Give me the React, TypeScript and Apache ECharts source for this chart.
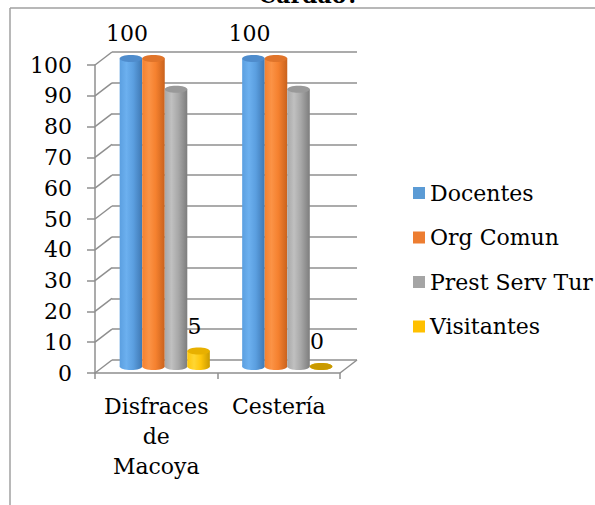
import React, { useEffect, useRef } from "react";
import * as echarts from "echarts";

const categories = ["Disfraces de Macoya", "Cestería"];
const seriesNames = ["Docentes", "Org Comun", "Prest Serv Tur", "Visitantes"];
const docentes = [100, 100];
const orgComun = [100, 100];
const prestServTur = [90, 90];
const visitantes = [5, 0];
const seriesValues = [docentes, orgComun, prestServTur, visitantes];
const labelledSeries = ["Docentes", "Visitantes"];
const yTicks = [0, 10, 20, 30, 40, 50, 60, 70, 80, 90, 100];
const titleText = "Cardao?";

const flatColors = ["#5B9BD5", "#ED7D31", "#A5A5A5", "#FFC000"];
const shade = [
  { dark: "#3f78b3", light: "#6cb0ef", mid: "#5b9fe0", top: "#4f8ccc" },
  { dark: "#c9621d", light: "#fb9346", mid: "#f5812f", top: "#e0742a" },
  { dark: "#7d7d7d", light: "#c0c0c0", mid: "#a8a8a8", top: "#999999" },
  { dark: "#c99a00", light: "#ffd633", mid: "#ffc60a", top: "#e8b000" },
];

const FONT = "DejaVu Serif, serif";
const FS = 22;
const FRONT = { left: 95, right: 255, top: 65, bottom: 132 };
const BACK = { left: 112, right: 238, top: 52, bottom: 145 };
const MID = { left: 103.5, right: 246.5, top: 58.5, bottom: 138.5 };
const LINE = "#8f8f8f";
const BAR_FRACTION = 0.184;

export default function App() {
  const ref = useRef<HTMLDivElement>(null);
  useEffect(() => {
    if (!ref.current) return;
    const chart = echarts.init(ref.current, null, { renderer: "svg" });
    const n = seriesNames.length;
    const series = seriesNames.map((name, sIdx) => ({
      name,
      type: "custom",
      xAxisIndex: 2,
      yAxisIndex: 2,
      itemStyle: { color: flatColors[sIdx] },
      encode: { x: 0, y: 1 },
      data: seriesValues[sIdx].map((v, i) => [i, v]),
      renderItem: (params: any, api: any) => {
        const cat = api.value(0);
        const val = api.value(1);
        const base = api.coord([cat, 0]);
        const top = api.coord([cat, val]);
        const band = api.size([1, 0])[0];
        const w = band * BAR_FRACTION;
        const cx = base[0] + (sIdx - (n - 1) / 2) * w;
        const ry = 3.5;
        const c = shade[sIdx];
        const grad = new echarts.graphic.LinearGradient(0, 0, 1, 0, [
          { offset: 0, color: c.mid },
          { offset: 0.3, color: c.light },
          { offset: 0.6, color: c.mid },
          { offset: 1, color: c.dark },
        ]);
        const children: any[] = [
          { type: "ellipse", shape: { cx, cy: base[1], rx: w / 2, ry }, style: { fill: grad } },
        ];
        if (base[1] - top[1] > 0.5) {
          children.push({
            type: "rect",
            shape: { x: cx - w / 2, y: top[1], width: w, height: base[1] - top[1] },
            style: { fill: grad },
          });
        }
        children.push({
          type: "ellipse",
          shape: { cx, cy: top[1], rx: w / 2, ry },
          style: { fill: val === 0 ? c.dark : c.top },
        });
        if (labelledSeries.includes(name)) {
          children.push({
            type: "text",
            style: {
              x: cx - 4,
              y: top[1] - 25,
              text: String(val),
              fill: "#000",
              fontSize: FS,
              fontFamily: FONT,
              align: "center",
              verticalAlign: "middle",
            },
          });
        }
        return { type: "group", children };
      },
    }));

    const option: any = {
      animation: false,
      backgroundColor: "#fff",
      textStyle: { fontFamily: FONT },
      legend: {
        orient: "vertical",
        left: 408,
        top: 177,
        itemWidth: 12,
        itemHeight: 12,
        itemGap: 22.5,
        icon: "rect",
        data: seriesNames,
        textStyle: { fontSize: FS, color: "#000", fontFamily: FONT },
      },
      grid: [{ ...FRONT }, { ...BACK }, { ...MID }],
      xAxis: [
        {
          gridIndex: 0,
          type: "category",
          data: categories,
          axisLine: { lineStyle: { color: LINE, width: 1.5 } },
          axisTick: { show: true, length: 6, lineStyle: { color: LINE, width: 1.5 } },
          axisLabel: {
            color: "#000",
            fontSize: FS,
            fontFamily: FONT,
            lineHeight: 30,
            margin: 18,
            interval: 0,
            formatter: (v: string) => v.replace(/ /g, "\n"),
          },
        },
        { gridIndex: 1, type: "category", data: categories, show: false },
        { gridIndex: 2, type: "category", data: categories, show: false },
      ],
      yAxis: [
        {
          gridIndex: 0,
          type: "value",
          min: 0,
          max: 100,
          interval: 10,
          axisLine: { show: true, lineStyle: { color: LINE, width: 1.5 } },
          axisTick: { show: true, length: 8, lineStyle: { color: LINE, width: 1.5 } },
          splitLine: { show: false },
          axisLabel: { color: "#000", fontSize: FS, fontFamily: FONT, margin: 23 },
        },
        {
          gridIndex: 1,
          type: "value",
          min: 0,
          max: 100,
          interval: 10,
          axisLine: { show: false },
          axisTick: { show: false },
          axisLabel: { show: false },
          splitLine: { show: true, lineStyle: { color: LINE, width: 1.5 } },
        },
        { gridIndex: 2, type: "value", min: 0, max: 100, interval: 10, show: false, splitLine: { show: false } },
      ],
      series,
    };
    chart.setOption(option);

    const W = 595;
    const diag: any[] = yTicks.map((v, i) => {
      const yF = chart.convertToPixel({ yAxisIndex: 0 } as any, v) as unknown as number;
      const yB = chart.convertToPixel({ yAxisIndex: 1 } as any, v) as unknown as number;
      return {
        type: "line",
        id: "d" + i,
        z: 1,
        shape: { x1: FRONT.left, y1: yF, x2: BACK.left, y2: yB },
        style: { stroke: LINE, lineWidth: 1.5 },
      };
    });
    const y0F = chart.convertToPixel({ yAxisIndex: 0 } as any, 0) as unknown as number;
    const y0B = chart.convertToPixel({ yAxisIndex: 1 } as any, 0) as unknown as number;
    diag.push({
      type: "line",
      id: "floorRight",
      z: 1,
      shape: { x1: W - FRONT.right, y1: y0F, x2: W - BACK.right, y2: y0B },
      style: { stroke: LINE, lineWidth: 1.5 },
    });
    chart.setOption({
      graphic: {
        elements: [
          ...diag,
          {
            type: "line",
            id: "borderTop",
            shape: { x1: 10, y1: 8, x2: 595, y2: 8 },
            style: { stroke: "#a0a0a0", lineWidth: 1.5 },
          },
          {
            type: "line",
            id: "borderLeft",
            shape: { x1: 10, y1: 8, x2: 10, y2: 505 },
            style: { stroke: "#a0a0a0", lineWidth: 1.5 },
          },
          {
            type: "text",
            id: "title",
            x: 309,
            y: 6,
            style: {
              text: titleText,
              fontSize: FS,
              fontWeight: "bold",
              fontFamily: FONT,
              fill: "#000",
              align: "center",
              verticalAlign: "bottom",
            },
          },
        ],
      },
    });
    return () => chart.dispose();
  }, []);
  return (
    <div
      ref={ref}
      style={{ position: "fixed", left: 0, top: 0, width: 595, height: 505 }}
    />
  );
}
